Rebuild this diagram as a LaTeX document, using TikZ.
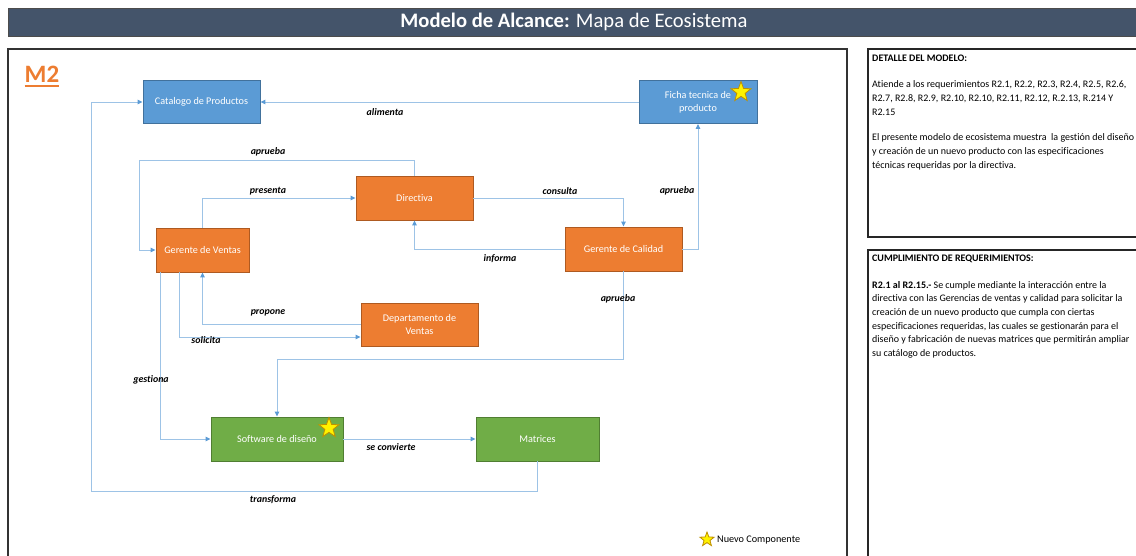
\documentclass[tikz,border=0pt]{standalone}
\usepackage{fontspec}
\setmainfont[Ligatures={TeX,NoCommon}]{Carlito}
\usetikzlibrary{shapes.geometric,arrows.meta,calc}
\definecolor{bluef}{HTML}{5B9BD5}
\definecolor{blued}{HTML}{41719C}
\definecolor{orangef}{HTML}{ED7D31}
\definecolor{oranged}{HTML}{AE5A21}
\definecolor{greenf}{HTML}{70AD47}
\definecolor{greend}{HTML}{507E32}
\definecolor{connc}{HTML}{9DC3E6}
\definecolor{arrc}{HTML}{5B9BD5}
\definecolor{titlef}{HTML}{44546A}
\definecolor{starb}{HTML}{BF9000}
\definecolor{mtwo}{HTML}{ED7D31}
\tikzset{
  box/.style={rectangle, draw, line width=0.9pt, text=white, font=\fontsize{10.2}{13}\selectfont, align=center, inner sep=2pt},
  bluebox/.style={box, fill=bluef, draw=blued},
  orbox/.style={box, fill=orangef, draw=oranged},
  grbox/.style={box, fill=greenf, draw=greend},
  conn/.style={draw=connc, line width=1pt, -{Triangle[length=5pt,width=4.5pt,fill=arrc,color=arrc]}},
  lbl/.style={font=\fontsize{9.9}{12}\selectfont\bfseries\itshape, text=black, inner sep=1pt},
  newstar/.style={star, star points=5, star point ratio=2.4, fill=yellow, draw=starb, line width=0.8pt, minimum size=21pt, inner sep=0pt},
  paneltext/.style={anchor=north west, align=left, inner sep=0pt, font=\fontsize{10}{14}\selectfont, text=black},
}
\begin{document}
\begin{tikzpicture}[x=1pt,y=-1pt]
\useasboundingbox (0,0) rectangle (1136,555);
\fill[white] (0,0) rectangle (1136,555);
% title bar
\path[fill=titlef, draw=black!70, line width=0.8pt] (8,8) rectangle (1145,36);
\node[text=white, font=\fontsize{20.6}{24}\selectfont] (title) at (574,22) {\textbf{Modelo de Alcance:} Mapa de Ecosistema};
% frames
\draw[black!80, line width=1.2pt] (8,49) rectangle (847,570);
\draw[black!85, line width=1.2pt] (868,49) rectangle (1145,237);
\draw[black!85, line width=1.2pt] (868,250) rectangle (1145,570);
% M2
\node[text=mtwo, font=\fontsize{25}{28}\selectfont\bfseries, inner sep=0pt] (m2) at (42,74) {M2};
\draw[mtwo, line width=1.6pt] (m2.south west |- 0,86) -- (m2.south east |- 0,86);
% nodes
\node[bluebox, minimum width=117pt, minimum height=43pt] (cat) at (201.5,102) {Catalogo de Productos};
\node[bluebox, minimum width=118pt, minimum height=43pt] (ficha) at (698,102) {Ficha tecnica de\\producto};
\node[orbox, minimum width=117pt, minimum height=44pt] (dir) at (414.5,198) {Directiva};
\node[orbox, minimum width=93pt, minimum height=44pt] (gv) at (202.5,250) {Gerente de Ventas};
\node[orbox, minimum width=117pt, minimum height=44pt] (gc) at (623.5,249) {Gerente de Calidad};
\node[orbox, minimum width=117pt, minimum height=43pt] (dep) at (419.5,324.5) {Departamento de\\Ventas};
\node[grbox, minimum width=132pt, minimum height=44pt] (sw) at (277,439) {Software de diseño};
\node[grbox, minimum width=123pt, minimum height=44pt] (mat) at (537.5,439) {Matrices};
% stars
\node[newstar] (st1) at (741,92) {};
\node[newstar] (st2) at (329,428) {};
\node[newstar, minimum size=15pt] (st3) at (707,539.5) {};
\node[anchor=west, font=\fontsize{10.2}{12}\selectfont, inner sep=0pt] (legend) at (717,540) {Nuevo Componente};
% connectors
\coordinate (tr) at (91,491);
\coordinate (apt) at (139,160);
\draw[conn] (ficha.west) -- (cat.east);
\draw[conn] (mat.south) |- (tr) |- (cat.west);
\draw[conn] (dir.north) |- (apt) |- (gv.west);
\draw[conn] (gv.north) |- (dir.west);
\draw[conn] (dir.east) -| (gc.north);
\draw[conn] (gc.west) -| (dir.south);
\draw[conn] (gc.east) -| (ficha.south);
\draw[conn] (dep.west) -| (gv.south);
\draw[conn] ([xshift=-23.5pt]gv.south) |- ([yshift=-12.5pt]dep.west);
\draw[conn] ([xshift=-42.5pt]gv.south) |- (sw.west);
\draw[conn] (gc.south) -- ++(0,88) -| (sw.north);
\draw[conn] (sw.east) -- (mat.west);
% labels
\node[lbl] (l1) at (385,112) {alimenta};
\node[lbl] (l2) at (268,152) {aprueba};
\node[lbl] (l3) at (268,191) {presenta};
\node[lbl] (l4) at (560,191) {consulta};
\node[lbl] (l5) at (677,191) {aprueba};
\node[lbl] (l6) at (500,259) {informa};
\node[lbl] (l7) at (268,313) {propone};
\node[lbl] (l8) at (206,340) {solicita};
\node[lbl] (l9) at (151,380) {gestiona};
\node[lbl] (l10) at (618,299) {aprueba};
\node[lbl] (l11) at (391,447) {se convierte};
\node[lbl] (l12) at (273,500) {transforma};
% panel texts
\node[paneltext] (p1) at (872,54.5) {\textbf{DETALLE DEL MODELO:}\\[12pt]
Atiende a los requerimientos R2.1, R2.2, R2.3, R2.4, R2.5, R2.6,\\
R2.7, R2.8, R2.9, R2.10, R2.10, R2.11, R2.12, R.2.13, R.214 Y\\
R2.15\\[11pt]
El presente modelo de ecosistema muestra\ \ la gestión del diseño\\
y creación de un nuevo producto con las especificaciones\\
técnicas requeridas por la directiva.};
\node[paneltext] (p2) at (872,254.5) {\textbf{CUMPLIMIENTO DE REQUERIMIENTOS:}\\[13pt]
\textbf{R2.1 al R2.15.-} Se cumple mediante la interacción entre la\\[-0.4pt]
directiva con las Gerencias de ventas y calidad para solicitar la\\[-0.4pt]
creación de un nuevo producto que cumpla con ciertas\\[-0.4pt]
especificaciones requeridas, las cuales se gestionarán para el\\[-0.4pt]
diseño y fabricación de nuevas matrices que permitirán ampliar\\[-0.4pt]
su catálogo de productos.};
\end{tikzpicture}
\end{document}
